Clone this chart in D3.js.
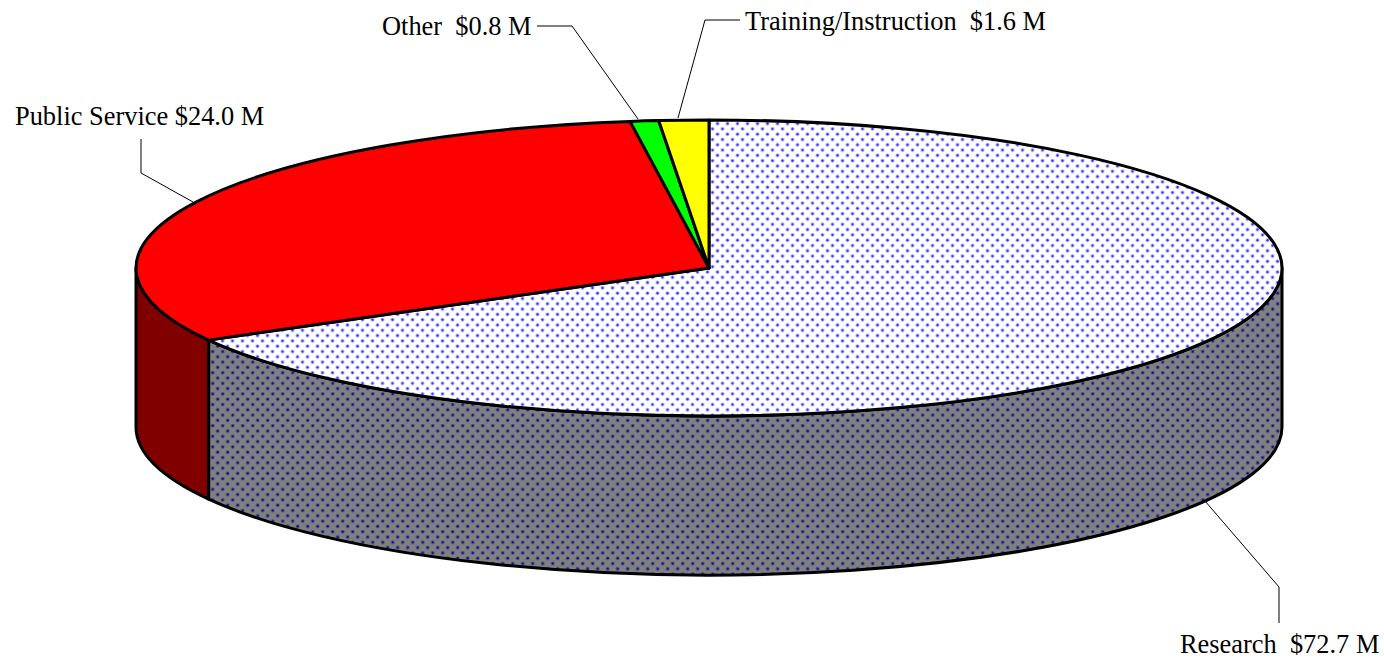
<!DOCTYPE html>
<html>
<head>
<meta charset="utf-8">
<script src="https://cdn.jsdelivr.net/npm/d3@7"></script>
<style>
html, body { margin: 0; background: #fff; }
text { font-family: "Liberation Serif", serif; font-size: 26.4px; fill: #000; white-space: pre; }
</style>
</head>
<body>
<div class="displayArea"></div>
<script>
// slice names and the amounts printed on the labels
var categories = ["Research", "Public Service", "Other", "Training/Instruction"];
var amounts = [72.7, 24.0, 0.8, 1.6];
var labels = ["Research  $72.7 M", "Public Service $24.0 M", "Other  $0.8 M", "Training/Instruction  $1.6 M"];
// slice sizes as drawn in the picture (% of the turn), they don't follow the amounts exactly
var drawnShares = [66.9, 30.9, 0.8, 1.4];

var topColors = ["url(#dotsTop)", "#ff0000", "#00ff00", "#ffff00"];
var sideColors = ["url(#dotsSide)", "#800000", "#008000", "#808000"];

var width = 1384, height = 660, depth = 159;

// unit circle -> squashed ellipse of the pie top
var xScale = d3.scaleLinear().domain([-1, 1]).range([136, 1282]);
var yScale = d3.scaleLinear().domain([-1, 1]).range([416, 120]);
var rx = (xScale(1) - xScale(-1)) / 2,
    ry = (yScale(-1) - yScale(1)) / 2;

var svg = d3.select(".displayArea").append("svg")
    .attr("width", width)
    .attr("height", height)
    .style("display", "block");

var defs = svg.append("defs");
function addDots(id, bg, halo, core, ox, oy) { // halo + core because the dots look blurred
    var p = defs.append("pattern").attr("id", id)
        .attr("patternUnits", "userSpaceOnUse")
        .attr("width", 10).attr("height", 10.6);
    p.append("rect").attr("width", 10).attr("height", 10.6).attr("fill", bg);
    [[ox, oy], [ox + 5, oy + 5.3]].forEach(function (c) {
        p.append("circle").attr("cx", c[0]).attr("cy", c[1]).attr("r", 2.2).attr("fill", halo);
        p.append("circle").attr("cx", c[0]).attr("cy", c[1]).attr("r", 1.2).attr("fill", core);
    });
}
addDots("dotsTop", "#ffffff", "#ccccff", "#3030ff", 2.5, 1.6);
addDots("dotsSide", "#808080", "#606088", "#101090", 2.7, 1.7);

function px(a) { return xScale(Math.sin(a)); }
function py(a) { return yScale(Math.cos(a)); }

var arcs = d3.pie().sort(null)(drawnShares);

// pie top wedge
function wedgePath(d) {
    var large = d.endAngle - d.startAngle > Math.PI ? 1 : 0;
    return "M" + xScale(0) + "," + yScale(0) +
        "L" + px(d.startAngle) + "," + py(d.startAngle) +
        "A" + rx + "," + ry + " 0 " + large + " 1 " + px(d.endAngle) + "," + py(d.endAngle) + "Z";
}

// outer wall, only the part of the slice facing the viewer (angles PI/2 .. 3PI/2)
function wallPath(d) {
    var a0 = Math.max(d.startAngle, Math.PI / 2),
        a1 = Math.min(d.endAngle, Math.PI * 1.5);
    if (a1 <= a0) return null;
    return "M" + px(a0) + "," + py(a0) +
        "A" + rx + "," + ry + " 0 0 1 " + px(a1) + "," + py(a1) +
        "L" + px(a1) + "," + (py(a1) + depth) +
        "A" + rx + "," + ry + " 0 0 0 " + px(a0) + "," + (py(a0) + depth) + "Z";
}

svg.append("g").selectAll("path")
    .data(arcs)
    .enter()
    .append("path")
    .attr("d", wallPath)
    .attr("fill", function (d, i) { return sideColors[i]; })
    .attr("stroke", "#000")
    .attr("stroke-width", 3)
    .attr("stroke-linejoin", "round");

svg.append("g").selectAll("path")
    .data(arcs)
    .enter()
    .append("path")
    .attr("d", wedgePath)
    .attr("fill", function (d, i) { return topColors[i]; })
    .attr("stroke", "#000")
    .attr("stroke-width", 3)
    .attr("stroke-linejoin", "round");

// leader lines, same order as categories
var leaderLines = [
    [[1205, 501], [1279, 587], [1279, 623]],
    [[193, 202], [141, 173], [141, 139]],
    [[638, 119], [572, 26], [537, 26]],
    [[678, 118], [705, 20], [740, 20]]
];
svg.append("g").selectAll("path")
    .data(leaderLines)
    .enter()
    .append("path")
    .attr("d", d3.line())
    .attr("fill", "none")
    .attr("stroke", "#000")
    .attr("stroke-width", 1);

var labelPos = [[1180, 653], [15, 125], [382, 35], [745, 30]];
svg.append("g").selectAll("text")
    .data(labels)
    .enter()
    .append("text")
    .attr("x", function (d, i) { return labelPos[i][0]; })
    .attr("y", function (d, i) { return labelPos[i][1]; })
    .text(function (d) { return d; });
</script>
</body>
</html>
